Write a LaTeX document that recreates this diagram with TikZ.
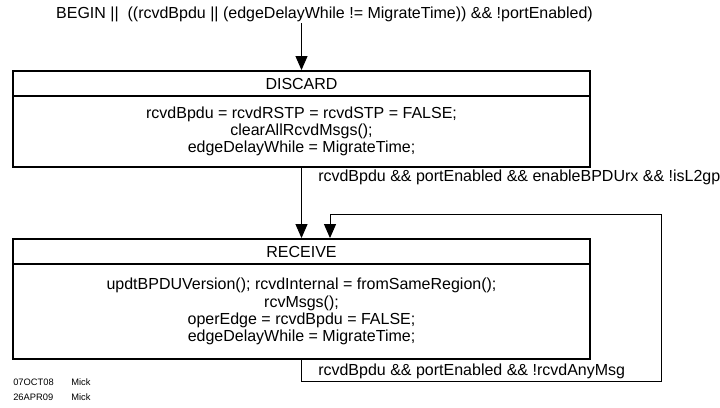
\documentclass[tikz,border=0pt]{standalone}
\usepackage{fontspec}
\setmainfont{Liberation Sans}
\usetikzlibrary{arrows.meta}

\tikzset{
  statehead/.style={draw, line width=1.4pt, minimum width=432.75pt, inner sep=0pt, font=\fontsize{12}{14}\selectfont},
  statebody/.style={draw, line width=1.4pt, minimum width=432.75pt, inner sep=0pt, align=center,
                    font=\fontsize{12}{12.9}\selectfont},
  cond/.style={anchor=west, inner sep=0pt, font=\fontsize{12}{14}\selectfont},
  stamp/.style={anchor=west, inner sep=0pt, font=\fontsize{7}{8}\selectfont},
  trans/.style={line width=0.75pt, -{Triangle[length=10.5pt, width=9pt]}},
  loopline/.style={line width=0.75pt},
}

\begin{document}
\begin{tikzpicture}[x=0.75pt, y=-0.75pt]
  \useasboundingbox (0,0) rectangle (720,407);

  % entry condition
  \node[inner sep=0pt, font=\fontsize{12}{14}\selectfont] (begin) at (324.5,14)
    {BEGIN ||\ \ ((rcvdBpdu || (edgeDelayWhile != MigrateTime)) \&\& !portEnabled)};
  \coordinate (bstart) at (301.5,23);

  % DISCARD state
  \node[statehead, minimum height=18.75pt] (dhead) at (301.5,83.5) {DISCARD};
  \node[statebody, minimum height=53.25pt] (dbody) at (301.5,131.5)
    {rcvdBpdu = rcvdRSTP = rcvdSTP = FALSE;\\
     clearAllRcvdMsgs();\\
     edgeDelayWhile = MigrateTime;};

  % RECEIVE state
  \node[statehead, minimum height=18.75pt] (rhead) at (301.5,251.5) {RECEIVE};
  \node[statebody, minimum height=71.25pt] (rbody) at (301.5,311.5)
    {updtBPDUVersion(); rcvdInternal = fromSameRegion();\\
     rcvMsgs();\\
     operEdge = rcvdBpdu = FALSE;\\
     edgeDelayWhile = MigrateTime;};

  % transitions
  \draw[trans] (bstart) -- (bstart |- dhead.north);
  \draw[trans] (dbody.south) -- (dbody.south |- rhead.north);

  \node[cond] (c1) at (318,177) {rcvdBpdu \&\& portEnabled \&\& enableBPDUrx \&\& !isL2gp};

  % self loop on RECEIVE
  \coordinate (lpa) at (301.5,381);
  \coordinate (lpb) at (661,381);
  \coordinate (lpc) at (661,214);
  \coordinate (lpd) at (330,214);
  \draw[loopline] (rbody.south) -- (lpa) -- (lpb) -- (lpc) -- (lpd);
  \draw[trans] (lpd) -- (lpd |- rhead.north);

  \node[cond] (c2) at (318,371) {rcvdBpdu \&\& portEnabled \&\& !rcvdAnyMsg};

  % revision stamps
  \node[stamp] (r1) at (13,382) {07OCT08};
  \node[stamp] (r1n) at (71,382) {Mick};
  \node[stamp] (r2) at (13,397) {26APR09};
  \node[stamp] (r2n) at (71,397) {Mick};
\end{tikzpicture}
\end{document}
